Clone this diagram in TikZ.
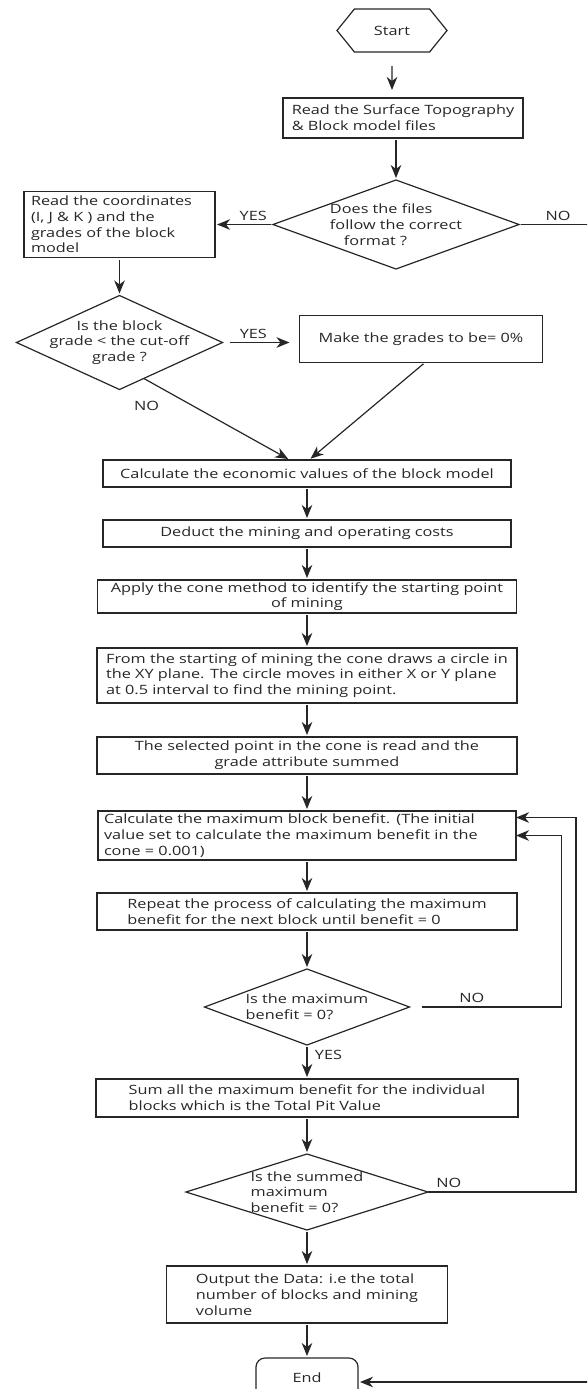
\documentclass[tikz,border=0pt]{standalone}
\usepackage{fontspec}
\setmainfont{Open Sans}[FakeStretch=1.27]
\usetikzlibrary{positioning,shapes.geometric,shapes.symbols,arrows.meta}

\begin{document}
\begin{tikzpicture}[x=1pt, y=-1pt,
    font=\fontsize{12.8}{15.7}\selectfont,
    line width=1.2pt, color=black!85,
    >={Stealth[length=13pt, width=10.5pt, inset=4pt]},
    startnode/.style={signal, signal to=east and west, signal pointer angle=102, draw, minimum width=110pt, minimum height=43pt, inner sep=1pt, outer sep=0pt},
    endnode/.style={rectangle, rounded corners=9pt, draw, minimum width=102pt, minimum height=40pt, outer sep=0pt},
    procnode/.style={rectangle, draw, inner xsep=2pt, inner ysep=0pt, outer sep=0pt},
    decnode/.style={diamond, draw, inner xsep=-60pt, inner ysep=-20pt, outer sep=0pt},
    flowline/.style={->, shorten <=2pt, shorten >=2pt}
   ]
   \useasboundingbox (0,0) rectangle (587,1389);
   \clip (0,0) rectangle (587,1389);

   \node[startnode] (start) at (392,30.5) {Start};
   \node[procnode, align=left, minimum width=240pt, minimum height=40pt] (readfiles) [below=46pt of start, xshift=11pt] {Read the Surface Topography\\\& Block model files};
   \node[decnode, align=left, minimum width=246pt, minimum height=89pt] (filecheck) [below=42pt of readfiles, xshift=-7pt] {Does the files\\follow the correct\\\hspace*{14pt}format ?};
   \node[procnode, align=left, text width=177pt, inner xsep=7pt, minimum height=66pt] (readcoords) [left=58pt of filecheck] {Read the coordinates\\(I, J \& K ) and the\\grades of the block\\model};
   \node[decnode, align=center, minimum width=206pt, minimum height=94pt] (gradecheck) [below=38pt of readcoords] {Is the block\\grade < the cut-off\\grade ?};
   \node[procnode, align=center, minimum width=243pt, minimum height=47pt] (zerograde) [right=77pt of gradecheck, yshift=3.5pt] {Make the grades to be= 0\%};
   \node[procnode, minimum width=408pt, minimum height=27pt] (econvalue) at (307,473.5) {Calculate the economic values of the block model};
   \node[procnode, minimum width=408pt, minimum height=27pt] (costs) [below=33pt of econvalue] {Deduct the mining and operating costs};
   \node[procnode, align=center, minimum width=419pt, minimum height=33pt] (conestart) [below=33pt of costs] {Apply the cone method to identify the starting point\\of mining};
   \node[procnode, align=left, minimum width=420pt, minimum height=55pt] (conecircle) [below=35pt of conestart] {From the starting of mining the cone draws a circle in\\the XY plane. The circle moves in either X or Y plane\\at 0.5 interval to find the mining point.};
   \node[procnode, align=center, minimum width=420pt, minimum height=37pt] (gradesum) [below=34pt of conecircle] {The selected point in the cone is read and the\\grade attribute summed};
   \node[procnode, align=left, text width=406pt, inner xsep=6pt, minimum height=49pt] (maxbenefit) [below=37pt of gradesum] {Calculate the maximum block benefit. (The initial\\value set to calculate the maximum benefit in the\\cone = 0.001)};
   \node[procnode, align=left, minimum width=420pt, minimum height=37pt] (nextblock) [below=33pt of maxbenefit] {Repeat the process of calculating the maximum\\benefit for the next block until benefit = 0};
   \node[decnode, align=left, minimum width=205pt, minimum height=76pt] (maxcheck) [below=39pt of nextblock] {Is the maximum\\benefit = 0?};
   \node[procnode, align=left, minimum width=422pt, minimum height=38pt] (pitvalue) [below=34pt of maxcheck] {Sum all the maximum benefit for the individual\\blocks which is the Total Pit Value};
   \node[decnode, align=left, minimum width=242pt, minimum height=76pt] (sumcheck) [below=37pt of pitvalue] {Is the summed\\maximum\\benefit = 0?};
   \node[procnode, align=left, minimum width=281pt, minimum height=57pt] (output) [below=36pt of sumcheck] {Output the Data: i.e the total\\number of blocks and mining\\volume};
   \node[endnode] (finish) [below=35pt of output] {End};

   \draw[flowline, shorten <=14pt, shorten >=8pt] (start) -- (start |- readfiles.north);
   \draw[flowline] (filecheck.north |- readfiles.south) -- (filecheck);
   \draw[flowline] (filecheck.west) -- (readcoords.east) node[pos=0.34, above] {YES};
   \draw[flowline] (filecheck.east) -- node[pos=0.46, above] {NO} ++(85,0) |- ([yshift=-4pt]finish.east);
   \draw[flowline] (readcoords) -- (gradecheck);
   \draw[flowline, shorten <=7pt, shorten >=10pt] (gradecheck.east) -- (gradecheck.east -| zerograde.west) node[pos=0.4, above] {YES};
   \draw[flowline, shorten <=0pt] (gradecheck.-56) -- ([xshift=-17pt]econvalue.north) node[pos=0.02, below=17pt] {NO};
   \draw[flowline] ([xshift=4pt]zerograde.south) -- ([xshift=2pt]econvalue.north);
   \draw[flowline] (econvalue) -- (costs);
   \draw[flowline] (costs) -- (conestart);
   \draw[flowline] (conestart) -- (conecircle);
   \draw[flowline] (conecircle) -- (gradesum);
   \draw[flowline] (gradesum) -- (maxbenefit);
   \draw[flowline] (maxbenefit) -- (nextblock);
   \draw[flowline] (nextblock) -- (maxcheck);
   \draw[flowline] (maxcheck) -- (pitvalue) node[pos=0.3, right=4pt] {YES};
   \draw[flowline, shorten <=12pt, shorten >=0pt] (maxcheck.east) -- node[pos=0.41, above] {NO} ++(152,0) |- (maxbenefit.east);
   \draw[flowline] (pitvalue) -- (sumcheck);
   \draw[flowline, shorten <=0pt, shorten >=0pt] (sumcheck.east) -- node[pos=0.14, above] {NO} ++(148,0) |- ([yshift=18pt]maxbenefit.east);
   \draw[flowline] (sumcheck) -- (output);
   \draw[flowline] (output) -- (finish);
\end{tikzpicture}
\end{document}
